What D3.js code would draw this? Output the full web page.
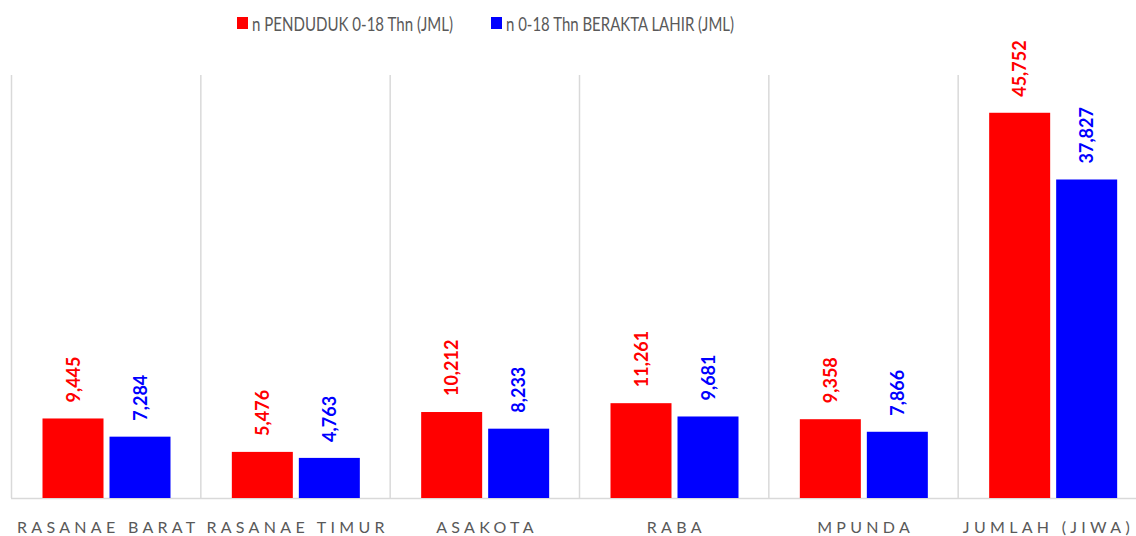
<!DOCTYPE html>
<html><head><meta charset="utf-8">
<script src="https://cdn.jsdelivr.net/npm/d3@7"></script>
<style>body{margin:0;background:#fff}svg{display:block}</style>
</head><body>
<script>
const categories = ["RASANAE BARAT","RASANAE TIMUR","ASAKOTA","RABA","MPUNDA","JUMLAH (JIWA)"];
const seriesNames = ["n PENDUDUK 0-18 Thn (JML)","n 0-18 Thn BERAKTA LAHIR (JML)"];
const penduduk = [9445,5476,10212,11261,9358,45752];
const aktaLahir = [7284,4763,8233,9681,7866,37827];
const colors = ["#ff0000","#0000ff"];

const W=1136,H=536;
const svg=d3.select("body").append("svg").attr("width",W).attr("height",H);
const font="Lato, 'Open Sans', sans-serif";
const x=d3.scaleBand().domain(categories).range([11.5,1147.5]).paddingInner(0).paddingOuter(0);
const x1=d3.scaleBand().domain([0,1]).range([31,159]).paddingInner(6/67);
const y=d3.scaleLinear().domain([0,50000]).range([498,77]);

// vertical gridlines
const grid=[...categories.map(c=>x(c)), x.range()[1]];
svg.append("g").selectAll("line").data(grid).join("line")
 .attr("x1",d=>d).attr("x2",d=>d).attr("y1",75).attr("y2",498)
 .attr("stroke","#d9d9d9").attr("stroke-width",1.5);
svg.append("line").attr("x1",11).attr("x2",W).attr("y1",498.5).attr("y2",498.5)
 .attr("stroke","#d9d9d9").attr("stroke-width",1.5);

const data=[penduduk,aktaLahir];
const g=svg.append("g");
data.forEach((vals,si)=>{
  g.selectAll(".b"+si).data(categories).join("rect")
   .attr("x",(c)=>x(c)+x1(si)).attr("width",x1.bandwidth())
   .attr("y",(c,i)=>y(vals[i])).attr("height",(c,i)=>y(0)-y(vals[i]))
   .attr("fill",colors[si]);
  g.selectAll(".l"+si).data(categories).join("text")
   .attr("transform",(c,i)=>`translate(${x(c)+x1(si)+x1.bandwidth()/2+6.5},${y(vals[i])-16}) rotate(-90)`)
   .attr("fill",colors[si]).attr("font-family",font).attr("font-weight","bold")
   .attr("font-size",18).text((c,i)=>d3.format(",")(vals[i]));
});

// x labels
const ls=4.3;
svg.append("g").selectAll("text").data(categories).join("text")
 .attr("x",c=>x(c)+x.bandwidth()/2+ls/2).attr("y",533).attr("text-anchor","middle")
 .attr("font-family",font).attr("font-size",16).attr("letter-spacing",ls)
 .attr("fill","#595959").text(c=>c)
 .each(function(){
   const b=this.getBBox();
   const right=b.x+b.width;
   if(right>W-2){ d3.select(this).attr("x",+d3.select(this).attr("x")-(right-(W-2))); }
 });

// legend
const lg=[{x:237,tx:252,w:201},{x:491,tx:506,w:228}];
seriesNames.forEach((n,i)=>{
  svg.append("rect").attr("x",lg[i].x).attr("y",17).attr("width",11).attr("height",12).attr("fill",colors[i]);
  svg.append("text").attr("x",lg[i].tx).attr("y",31).attr("font-family",font).attr("font-size",19.5)
   .attr("textLength",lg[i].w).attr("lengthAdjust","spacingAndGlyphs")
   .attr("fill","#595959").text(n);
});
</script>
</body></html>
